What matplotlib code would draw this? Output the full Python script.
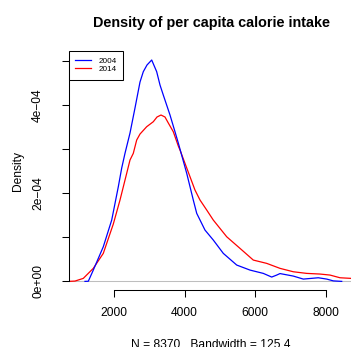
import matplotlib
matplotlib.use("Agg")
import matplotlib.pyplot as plt

plt.rcParams['font.family'] = ['Liberation Sans', 'DejaVu Sans']

# Kernel density estimates of per capita calorie intake (x in kcal, y density)
x_2004 = [1180, 1274, 1415, 1698, 1936, 1981, 2123, 2219, 2312, 2454, 2595,
          2737, 2830, 2935, 3068, 3209, 3303, 3396, 3586, 3727, 3821, 4059,
          4245, 4342, 4576, 4811, 5094, 5474, 5850, 6226, 6464, 6606, 6699,
          7076, 7359, 7783, 8021, 8208, 8445]
y_2004 = [0.0, 0.03e-5, 0.256e-4, 0.785e-4, 1.390e-4, 1.571e-4, 2.145e-4,
          2.569e-4, 2.902e-4, 3.363e-4, 3.930e-4, 4.519e-4, 4.753e-4,
          4.905e-4, 5.018e-4, 4.753e-4, 4.451e-4, 4.224e-4, 3.771e-4,
          3.392e-4, 3.136e-4, 2.449e-4, 1.844e-4, 1.542e-4, 1.163e-4,
          0.937e-4, 0.635e-4, 0.370e-4, 0.256e-4, 0.181e-4, 0.098e-4,
          0.143e-4, 0.177e-4, 0.120e-4, 0.052e-4, 0.082e-4, 0.052e-4,
          0.011e-4, 0.0]

x_2014 = [600, 719, 897, 1132, 1415, 1698, 1981, 2171, 2360, 2454, 2547,
          2643, 2737, 2926, 3113, 3218, 3331, 3444, 3538, 3679, 3821, 3869,
          4152, 4293, 4435, 4625, 4811, 5191, 5567, 5943, 6323, 6699, 7076,
          7455, 7831, 8114, 8397, 8709, 8850]
y_2014 = [0.0, 0.0, 0.007e-4, 0.068e-4, 0.295e-4, 0.635e-4, 1.299e-4,
          1.844e-4, 2.449e-4, 2.751e-4, 2.902e-4, 3.204e-4, 3.340e-4,
          3.506e-4, 3.619e-4, 3.726e-4, 3.771e-4, 3.726e-4, 3.590e-4,
          3.392e-4, 3.068e-4, 2.977e-4, 2.372e-4, 2.070e-4, 1.844e-4,
          1.617e-4, 1.390e-4, 1.011e-4, 0.748e-4, 0.483e-4, 0.408e-4,
          0.295e-4, 0.218e-4, 0.181e-4, 0.166e-4, 0.143e-4, 0.082e-4,
          0.068e-4, 0.055e-4]

series_labels = ["2004", "2014"]
x_ticks = [2000, 4000, 6000, 8000]
y_ticks = [0, 1e-4, 2e-4, 3e-4, 4e-4, 5e-4]
y_tick_labels = ["0e+00", "", "2e\u221204", "", "4e\u221204", ""]

title = "Density of per capita calorie intake"
x_label = "N = 8370   Bandwidth = 125.4"
y_label = "Density"

W, H = 351, 347
fig = plt.figure(figsize=(W / 100, H / 100), dpi=100)

# plot region in pixels
left_px, right_px, top_px, bottom_px = 68.7, 353.5, 51.1, 290.2
ax = fig.add_axes([left_px / W, 1 - bottom_px / H,
                   (right_px - left_px) / W, (bottom_px - top_px) / H])
ax.set_xlim(719, 8779)
ax.set_ylim(-2.0e-5, 5.22e-4)

ax.axhline(0, color="#BEBEBE", lw=0.75, zorder=1)
ax.plot(x_2004, y_2004, color="#0000FF", lw=0.9, label=series_labels[0], zorder=3)
ax.plot(x_2014, y_2014, color="#FF0000", lw=0.9, label=series_labels[1], zorder=2)

for s in ("top", "right"):
    ax.spines[s].set_visible(False)
ax.spines["left"].set_bounds(0, 5e-4)
ax.spines["bottom"].set_bounds(2000, 8000)
for s in ("left", "bottom"):
    ax.spines[s].set_linewidth(0.75)
    ax.spines[s].set_color("black")

ax.set_xticks(x_ticks)
ax.set_xticklabels([str(v) for v in x_ticks])
ax.set_yticks(y_ticks)
ax.set_yticklabels(y_tick_labels, rotation=90, va="center")
ax.tick_params(axis="both", length=5.2, width=0.75, labelsize=8.64)
ax.tick_params(axis="x", pad=6.8)
ax.tick_params(axis="y", pad=12.5)

fig.text(211 / W, 1 - 26.5 / H, title, ha="center", va="baseline",
         fontsize=10.37, fontweight="bold")
fig.text(211 / W, 1 - 348 / H, x_label, ha="center", va="baseline",
         fontsize=8.64)
fig.text(21.4 / W, 1 - 170.7 / H, y_label, ha="center", va="baseline",
         rotation=90, rotation_mode="anchor", fontsize=8.64)

leg = ax.legend(loc="upper left", bbox_to_anchor=(0, 1.0 + 0.6 / (bottom_px - top_px)),
                borderaxespad=0, fontsize=5.9, frameon=True, fancybox=False,
                edgecolor="black", framealpha=1, borderpad=0.8,
                handlelength=1.95, handletextpad=0.9, labelspacing=0.1)
leg.get_frame().set_linewidth(0.75)

fig.savefig("out.png", dpi=100)
